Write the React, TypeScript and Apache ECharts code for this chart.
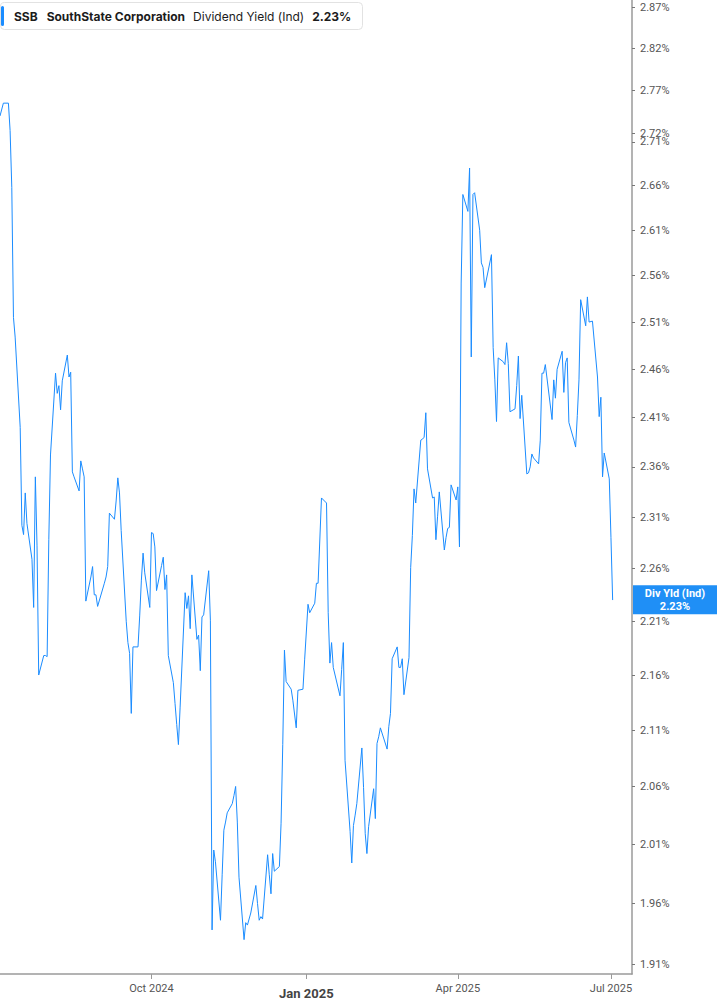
import { useEffect, useRef } from 'react';
import * as echarts from 'echarts';

// Trading days start here; weekends and market holidays are skipped.
const START_DATE = '2024-07-03';
const MARKET_HOLIDAYS = [
  '2024-07-04', '2024-09-02', '2024-11-28', '2024-12-25', '2025-01-01', '2025-01-09',
  '2025-01-20', '2025-02-17', '2025-04-18', '2025-05-26', '2025-06-19',
];

// Dividend yield (indicated), %, one value per trading day
const YIELD_VALUES = [
  // Jul 2024
  2.74, 2.755, 2.755, 2.723, 2.658, 2.515, 2.494, 2.4, 2.302, 2.293, 2.334, 2.304, 2.269, 2.223, 2.35, 2.282, 2.16, 2.178, 2.178, 2.177,
  // Aug
  2.288, 2.372, 2.456, 2.435, 2.443, 2.418, 2.448, 2.475, 2.452, 2.457, 2.355, 2.35, 2.336, 2.366, 2.358, 2.35, 2.229, 2.252, 2.262, 2.235, 2.235, 2.224,
  // Sep
  2.246, 2.252, 2.262, 2.314, 2.308, 2.326, 2.349, 2.334, 2.297, 2.21, 2.19, 2.18, 2.125, 2.186, 2.186, 2.215, 2.249, 2.275, 2.256, 2.223,
  // Oct
  2.295, 2.294, 2.281, 2.239, 2.263, 2.271, 2.24, 2.254, 2.178, 2.153, 2.134, 2.115, 2.097, 2.13, 2.237, 2.222, 2.234, 2.203, 2.254, 2.193, 2.197, 2.164, 2.214,
  // Nov
  2.216, 2.258, 2.211, 1.938, 2.005, 1.995, 1.946, 1.984, 2.022, 2.029, 2.037, 2.045, 2.052, 2.06, 2.029, 1.982, 1.93, 1.944, 1.942, 1.952,
  // Dec
  1.975, 1.96, 1.946, 1.949, 1.947, 2.001, 1.984, 1.968, 2.002, 1.987, 1.991, 2.028, 2.097, 2.183, 2.154, 2.147, 2.137, 2.112, 2.146, 2.147, 2.174,
  // Jan 2025
  2.226, 2.218, 2.227, 2.246, 2.246, 2.329, 2.324, 2.218, 2.171, 2.19, 2.167, 2.141, 2.165, 2.19, 2.083, 2.021, 1.994, 2.026, 2.035, 2.045,
  // Feb
  2.094, 2.059, 2.019, 2.002, 2.025, 2.058, 2.032, 2.098, 2.104, 2.112, 2.093, 2.113, 2.125, 2.175, 2.186, 2.167, 2.167, 2.175, 2.142,
  // Mar
  2.176, 2.261, 2.292, 2.338, 2.324, 2.387, 2.388, 2.39, 2.415, 2.358, 2.329, 2.33, 2.288, 2.311, 2.335, 2.278, 2.29, 2.299, 2.3, 2.342, 2.327,
  // Apr
  2.34, 2.281, 2.552, 2.65, 2.631, 2.68, 2.473, 2.65, 2.652, 2.61, 2.574, 2.569, 2.547, 2.583, 2.483, 2.449, 2.406, 2.472, 2.468, 2.465, 2.488,
  // May
  2.466, 2.416, 2.419, 2.443, 2.474, 2.409, 2.433, 2.353, 2.354, 2.36, 2.373, 2.369, 2.363, 2.387, 2.456, 2.456, 2.465, 2.408, 2.449, 2.43, 2.46,
  // Jun
  2.479, 2.436, 2.467, 2.472, 2.405, 2.387, 2.38, 2.412, 2.449, 2.534, 2.506, 2.537, 2.51, 2.511, 2.452, 2.411, 2.431, 2.35, 2.374, 2.348,
  // Jul
  2.29, 2.23,
];

const Y_TICKS = [
  2.87, 2.82, 2.77, 2.72, 2.71, 2.66, 2.61, 2.56, 2.51, 2.46, 2.41, 2.36, 2.31, 2.26, 2.21, 2.16, 2.11, 2.06, 2.01, 1.96, 1.91,
];
const X_TICKS = ['2024-10-01', '2025-01-01', '2025-04-01', '2025-07-01'];
const MONTHS = ['Jan', 'Feb', 'Mar', 'Apr', 'May', 'Jun', 'Jul', 'Aug', 'Sep', 'Oct', 'Nov', 'Dec'];

const Y_MIN = 1.902;
const Y_MAX = 2.8786;
const X_MIN = '2024-07-03T00:00:00Z';
const X_MAX = '2025-07-13T12:00:00Z';

const TICKER = 'SSB';
const COMPANY = 'SouthState Corporation';
const METRIC = 'Dividend Yield (Ind)';
const LINE_COLOR = '#1a8cff';

function tradingDays(start: string, count: number, holidays: string[]) {
  const out: number[] = [];
  const d = new Date(start + 'T00:00:00Z');
  while (out.length < count) {
    const wd = d.getUTCDay();
    const iso = d.toISOString().slice(0, 10);
    if (wd !== 0 && wd !== 6 && !holidays.includes(iso)) out.push(d.getTime());
    d.setUTCDate(d.getUTCDate() + 1);
  }
  return out;
}

export default function App() {
  const chartRef = useRef<HTMLDivElement>(null);

  useEffect(() => {
    if (!chartRef.current) return;
    const chart = echarts.init(chartRef.current, null, { renderer: 'svg' });

    const dates = tradingDays(START_DATE, YIELD_VALUES.length, MARKET_HOLIDAYS);
    // log scale: plot ln(yield) on a value axis, label with the yield itself
    const seriesData = YIELD_VALUES.map((v, i) => [dates[i], Math.log(v)]);
    const last = YIELD_VALUES[YIELD_VALUES.length - 1];
    const fmtPct = (v: number) => v.toFixed(2) + '%';
    const xTicks = X_TICKS.map((s) => new Date(s + 'T00:00:00Z').getTime());
    const yTicks = Y_TICKS.map((v) => Math.log(v));

    const option: echarts.EChartsOption = {
      animation: false,
      backgroundColor: '#fff',
      title: {
        left: 0,
        top: 2,
        padding: [4, 11, 4, 1],
        backgroundColor: '#fff',
        borderColor: '#e2e2e2',
        borderWidth: 1,
        borderRadius: 4,
        text: `{bar|}{t|${TICKER}}{n|${COMPANY}}{d|${METRIC}}{v|${fmtPct(last)}}`,
        textStyle: {
          rich: {
            bar: { backgroundColor: LINE_COLOR, width: 3, height: 20, borderRadius: 2 },
            t: { fontFamily: 'Inter', fontSize: 12, fontWeight: 'bold', color: '#1c1c1c', padding: [0, 0, 0, 10] },
            n: { fontFamily: 'Inter', fontSize: 12, fontWeight: 'bold', color: '#1c1c1c', padding: [0, 0, 0, 9] },
            d: { fontFamily: 'Inter', fontSize: 12, fontWeight: 'normal', color: '#1c1c1c', padding: [0, 0, 0, 8] },
            v: { fontFamily: 'Inter', fontSize: 12, fontWeight: 'bold', color: '#1c1c1c', padding: [0, 0, 0, 8] },
          },
        },
      },
      grid: { left: 0, right: 85, top: 0, bottom: 31, containLabel: false },
      xAxis: {
        type: 'value',
        min: new Date(X_MIN).getTime(),
        max: new Date(X_MAX).getTime(),
        splitLine: { show: false },
        axisLine: { show: true, lineStyle: { color: '#9a9a9a', width: 1.5 } },
        axisTick: {
          show: true,
          length: 5,
          lineStyle: { color: '#9a9a9a' },
          customValues: xTicks,
        },
        axisLabel: {
          margin: 9,
          customValues: xTicks,
          formatter: (v: number) => {
            const d = new Date(v);
            const m = d.getUTCMonth();
            const label = `${MONTHS[m]} ${d.getUTCFullYear()}`;
            return m === 0 ? `{b|${label}}` : `{n|${label}}`;
          },
          rich: {
            n: { fontFamily: 'Roboto', fontSize: 11, color: '#555' },
            b: { fontFamily: 'Roboto', fontSize: 13, fontWeight: 'bold', color: '#444', padding: [4, 0, 0, 0] },
          },
        },
      },
      yAxis: {
        type: 'value',
        position: 'right',
        min: Math.log(Y_MIN),
        max: Math.log(Y_MAX),
        splitLine: { show: false },
        axisLine: { show: true, lineStyle: { color: '#9a9a9a', width: 1.5 } },
        axisTick: {
          show: true,
          length: 3,
          lineStyle: { color: '#777' },
          customValues: yTicks,
        },
        axisLabel: {
          margin: 8,
          fontFamily: 'Roboto',
          fontSize: 11,
          color: '#555',
          customValues: yTicks,
          formatter: (v: number) => fmtPct(Math.exp(v)),
        },
      },
      series: [
        {
          name: METRIC,
          type: 'line',
          data: seriesData,
          showSymbol: false,
          symbol: 'none',
          lineStyle: { color: LINE_COLOR, width: 1 },
          itemStyle: { color: LINE_COLOR },
          markLine: {
            silent: true,
            symbol: ['none', 'none'],
            lineStyle: { color: 'rgba(0,0,0,0)', width: 0 },
            label: {
              show: true,
              position: 'end',
              distance: 1,
              offset: [0, -5],
              formatter: `{a|Div Yld (Ind)}\n{a|${fmtPct(last)}}`,
              backgroundColor: '#1f8ff6',
              padding: [2, 6, 1, 6],
              rich: {
                a: {
                  width: 72,
                  align: 'center',
                  color: '#fff',
                  fontFamily: 'Roboto',
                  fontWeight: 'bold',
                  fontSize: 11,
                  lineHeight: 13,
                },
              },
            },
            data: [{ yAxis: Math.log(last) }],
          },
        },
      ],
    };

    chart.setOption(option);
    return () => chart.dispose();
  }, []);

  return (
    <div
      ref={chartRef}
      style={{ position: 'fixed', left: 0, top: 0, width: 717, height: 1005, background: '#fff' }}
    />
  );
}
